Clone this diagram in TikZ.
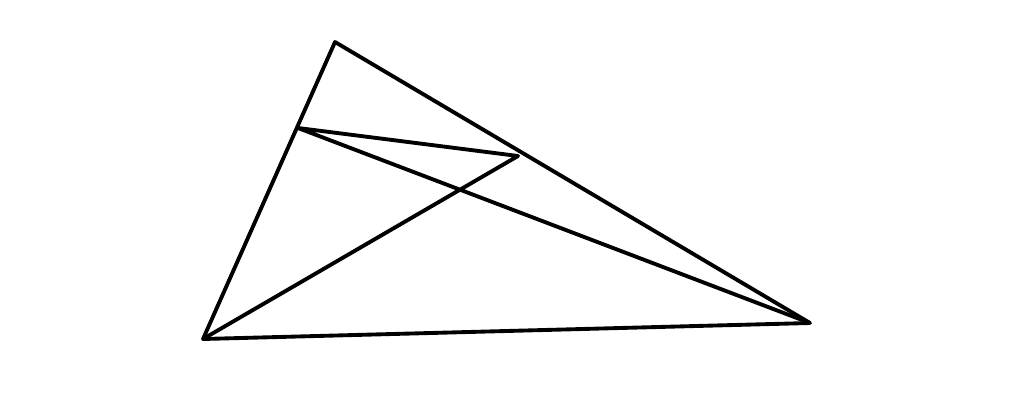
\documentclass[tikz,border=0pt]{standalone}
\begin{document}
\begin{tikzpicture}[x=0.02cm,y=-0.02cm,seg/.style={line width=2.2pt,line join=round}]
\useasboundingbox (0,0) rectangle (1024,409);
\coordinate (A) at (335,42);
\coordinate (B) at (203,339);
\coordinate (C) at (810,323);
\coordinate (D) at (298,128);
\coordinate (E) at (518,156);
\draw[seg] (A) -- (B) -- (C) -- cycle;
\draw[seg] (C) -- (D) -- (E) -- (B);
\end{tikzpicture}
\end{document}
